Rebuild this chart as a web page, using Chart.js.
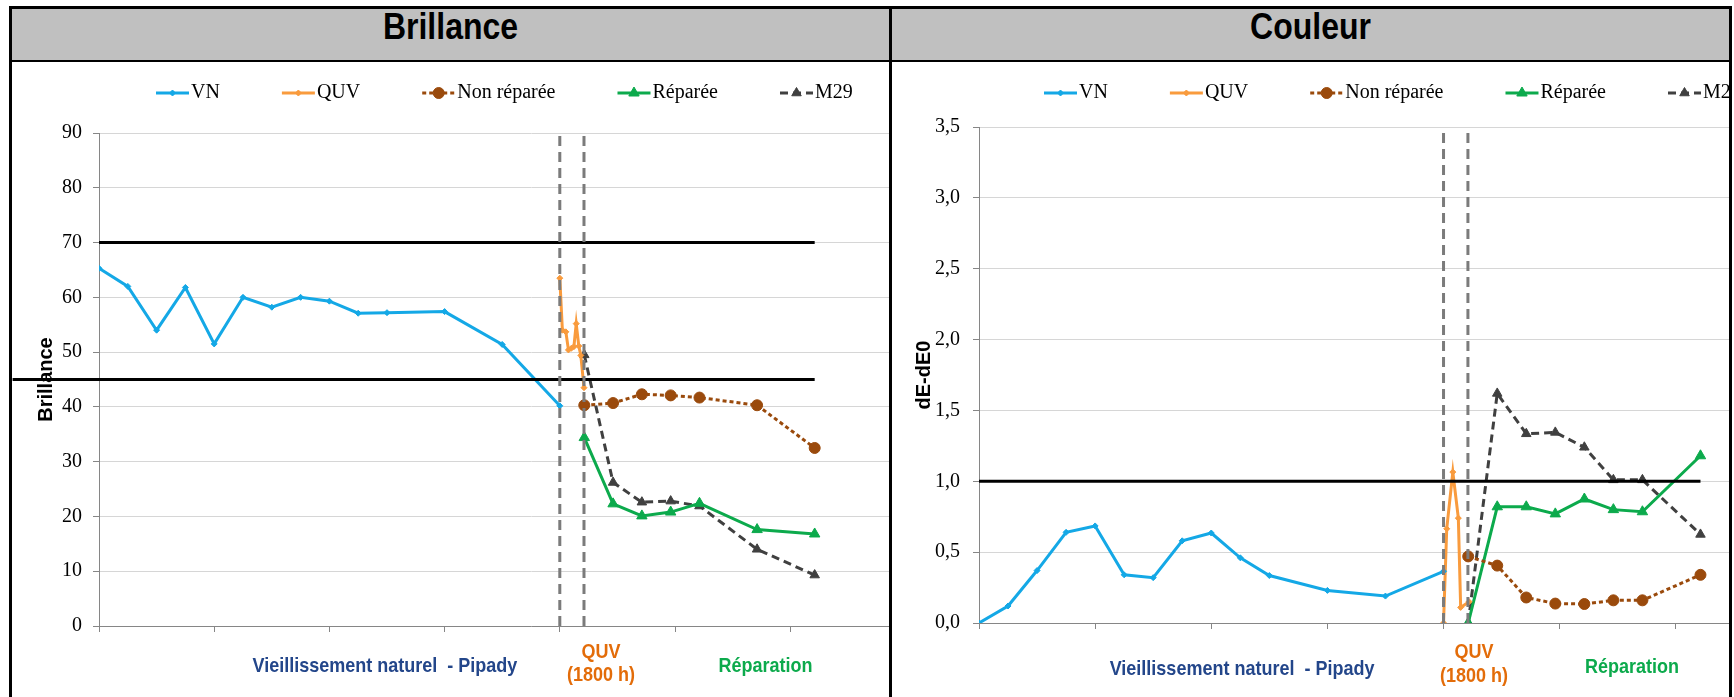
<!DOCTYPE html>
<html lang="fr">
<head>
<meta charset="utf-8">
<title>Brillance / Couleur</title>
<script src="https://cdn.jsdelivr.net/npm/chart.js@4.4.1/dist/chart.umd.min.js"></script>
<style>
  html, body { margin: 0; padding: 0; background: #fff; }
  body { width: 1734px; height: 697px; overflow: hidden; position: relative; }
  .bar { position: absolute; background: #000; }
  .head { position: absolute; top: 9px; height: 51px; background: #c0c0c0; }
  .head span {
    position: absolute; left: 0; right: 0; top: 0; height: 48px; line-height: 48px;
    text-align: center; font: bold 32px "Liberation Sans", Arial, sans-serif;
    transform: scaleY(1.13);
  }
  .panel { position: absolute; top: 62px; height: 635px; overflow: hidden; }
  .panel canvas { position: absolute; left: 0; top: 0; }
</style>
</head>
<body>
<div class="head" style="left:12px;width:877px"><span>Brillance</span></div>
<div class="head" style="left:892px;width:837px"><span>Couleur</span></div>
<div class="bar" style="left:9px;top:6px;width:1723px;height:3px"></div>
<div class="bar" style="left:9px;top:6px;width:3px;height:700px"></div>
<div class="bar" style="left:889px;top:6px;width:3px;height:700px"></div>
<div class="bar" style="left:1729px;top:6px;width:3px;height:700px"></div>
<div class="bar" style="left:12px;top:60px;width:1717px;height:2px"></div>

<div class="panel" style="left:12px;width:877px"><canvas id="brillance" width="958" height="664"></canvas></div>
<div class="panel" style="left:892px;width:837px"><canvas id="couleur" width="965" height="664"></canvas></div>

<script>
// === Abscisses des points de mesure ===
const xVN = [0, 1, 2, 3, 4, 5, 6, 7, 8, 9, 10, 12, 14, 16];
const xQUVBril = [16, 16.09, 16.21, 16.3, 16.4, 16.49, 16.57, 16.66, 16.73, 16.84];
const xRepBril = [16.85, 17.85, 18.85, 19.85, 20.85, 22.85, 24.85];
const xQUVCoul = [16, 16.11, 16.32, 16.51, 16.59, 16.88];
const xRepCoul = [16.85, 17.85, 18.85, 19.85, 20.85, 21.85, 22.85, 24.85];

// === Brillance ===
const brilVN = [65.3, 62, 54, 61.8, 51.5, 60, 58.2, 60, 59.3, 57.1, 57.2, 57.4, 51.4, 40.2];
const brilQUV = [63.5, 54, 53.7, 50.4, 50.7, 51, 55.2, 51.1, 49.4, 43.5];
const brilNonRep = [40.3, 40.7, 42.3, 42.1, 41.7, 40.3, 32.5];
const brilRep = [34.4, 22.3, 20.1, 20.8, 22.4, 17.6, 16.8];
const brilM29 = [49.5, 26.2, 22.6, 22.8, 21.9, 14, 9.3];

// === Couleur (dE-dE0) ===
const coulVN = [0, 0.12, 0.37, 0.64, 0.685, 0.34, 0.32, 0.58, 0.635, 0.46, 0.335, 0.23, 0.19, 0.365];
const coulQUV = [0, 0.665, 1.065, 0.74, 0.11, 0.15];
const coulNonRep = [0.47, 0.405, 0.18, 0.137, 0.134, 0.16, 0.16, 0.34];
const coulRep = [0, 0.82, 0.82, 0.77, 0.875, 0.8, 0.785, 1.18];
const coulM29 = [0, 1.62, 1.335, 1.345, 1.24, 1.01, 1.01, 0.625];

// === Seuils et limites de phases ===
const seuilsBrillance = [70, 45];
const seuilsCouleur = [1.0];
const xSeuils = [[0, 24.85], [-3, 24.85]]; // la ligne à 45 part du bord du cadre
const xPhases = [16, 16.84];               // début / fin du QUV

const nomsSeries = ['VN', 'QUV', 'Non réparée', 'Réparée', 'M29'];
const phaseLabels = ['Vieillissement naturel  - Pipady', 'QUV', '(1800 h)', 'Réparation'];
const phaseColors = ['#23468a', '#e36c09', '#e36c09', '#0caa4c'];

const couleurs = ['#14a8e6', '#f99b3d', '#9a4a0c', '#0caa4c', '#404040'];
const styles = [
  { pointStyle: 'rectRot', pointRadius: 3 },
  { pointStyle: 'rectRot', pointRadius: 3 },
  { pointStyle: 'circle', pointRadius: 5.5, borderDash: [4, 3] },
  { pointStyle: 'triangle', pointRadius: 6 },
  { pointStyle: 'triangle', pointRadius: 5.5, borderDash: [8, 5] }
];

function pts(xs, ys) {
  return xs.map((x, i) => ({ x, y: ys[i] }));
}

function series(xsList, ysList) {
  return nomsSeries.map((label, i) => Object.assign({
    label,
    data: pts(xsList[i], ysList[i]),
    borderColor: couleurs[i],
    backgroundColor: couleurs[i],
    pointBackgroundColor: couleurs[i],
    pointBorderColor: couleurs[i],
    pointBorderWidth: 1,
    borderWidth: 3,
    legend: true
  }, styles[i]));
}

function ligne(xs, ys, color, width, dash) {
  return {
    label: '', data: pts(xs, ys), borderColor: color, borderWidth: width,
    borderDash: dash || [], pointRadius: 0, legend: false, clip: false
  };
}

function repères(seuils, yMax) {
  const out = [];
  xPhases.forEach(x => out.push(ligne([x, x], [0, yMax], '#7b7b7b', 3, [10, 6])));
  seuils.forEach((s, i) => out.push(ligne(xSeuils[i], [s, s], '#000', 3)));
  return out;
}

// légende maison + libellés des phases sous l'axe
const decor = {
  id: 'decor',
  afterDraw(chart, args, opts) {
    const ctx = chart.ctx;
    ctx.save();
    ctx.font = '20px "Liberation Serif"';
    ctx.textBaseline = 'middle';
    let x = opts.legendX;
    const y = opts.legendY;
    chart.data.datasets.filter(d => d.legend).forEach(d => {
      ctx.strokeStyle = d.borderColor;
      ctx.fillStyle = d.borderColor;
      ctx.lineWidth = d.borderWidth;
      ctx.setLineDash(d.borderDash || []);
      ctx.beginPath();
      ctx.moveTo(x, y);
      ctx.lineTo(x + 33, y);
      ctx.stroke();
      ctx.setLineDash([]);
      ctx.lineWidth = 1;
      Chart.helpers.drawPoint(ctx, { pointStyle: d.pointStyle, radius: d.pointRadius, borderWidth: 1, rotation: 0 }, x + 16.5, y);
      ctx.fillStyle = '#000';
      ctx.textAlign = 'left';
      ctx.fillText(d.label, x + 35, y);
      x += 35 + ctx.measureText(d.label).width + 62;
    });

    const xs = chart.scales.x;
    ctx.font = 'bold 18px "Liberation Sans"';
    ctx.textAlign = 'center';
    opts.labels.forEach((l, i) => {
      ctx.fillStyle = phaseColors[i];
      ctx.save();
      ctx.translate(xs.getPixelForValue(l.u), l.y);
      ctx.scale(1, 1.12);
      ctx.fillText(phaseLabels[i], 0, 0);
      ctx.restore();
    });
    ctx.restore();
  }
};

function makeChart(id, cfg) {
  return new Chart(document.getElementById(id), {
    type: 'line',
    data: { datasets: cfg.datasets },
    options: {
      responsive: false,
      animation: false,
      devicePixelRatio: 1,
      layout: { padding: { top: cfg.top, left: 0, right: 0, bottom: 0 } },
      elements: { line: { tension: 0 } },
      scales: {
        x: {
          type: 'linear', min: 0, max: 30,
          ticks: { display: false, stepSize: 4 },
          grid: { drawOnChartArea: false, tickLength: 6, tickColor: '#868686' },
          border: { color: '#868686', width: 1 },
          afterFit: s => { s.height = cfg.xHeight; }
        },
        y: {
          min: 0, max: cfg.yMax,
          ticks: {
            stepSize: cfg.step, padding: cfg.tickPad, color: '#000',
            font: { family: 'Liberation Serif', size: 20 },
            callback: cfg.fmt
          },
          grid: { color: '#d6d6d6', tickLength: 6, tickColor: '#868686' },
          border: { color: '#868686', width: 1 },
          title: {
            display: true, text: cfg.title, color: '#000',
            font: { family: 'Liberation Sans', size: 20, weight: 'bold' },
            padding: { top: cfg.titlePad, bottom: 0 }
          },
          afterFit: s => { s.width = 87; }
        }
      },
      plugins: {
        legend: { display: false },
        tooltip: { enabled: false },
        decor: { legendX: cfg.legendX, legendY: 31, labels: cfg.labels }
      }
    },
    plugins: [decor]
  });
}

makeChart('brillance', {
  datasets: repères(seuilsBrillance, 90).concat(series(
    [xVN, xQUVBril, xRepBril, xRepBril, xRepBril],
    [brilVN, brilQUV, brilNonRep, brilRep, brilM29])),
  top: 71, xHeight: 100, yMax: 90, step: 10, tickPad: 11, titlePad: 22,
  title: 'Brillance', fmt: v => v, legendX: 144,
  labels: [{ u: 9.93, y: 604 }, { u: 17.43, y: 590 }, { u: 17.43, y: 613 }, { u: 23.14, y: 604 }]
});

makeChart('couleur', {
  datasets: repères(seuilsCouleur, 3.5).concat(series(
    [xVN, xQUVCoul, xRepCoul, xRepCoul, xRepCoul],
    [coulVN, coulQUV, coulNonRep, coulRep, coulM29])),
  top: 65, xHeight: 103, yMax: 3.5, step: 0.5, tickPad: 13, titlePad: 20,
  title: 'dE-dE0', fmt: v => v.toFixed(1).replace('.', ','), legendX: 152,
  labels: [{ u: 9.06, y: 607 }, { u: 17.05, y: 590 }, { u: 17.05, y: 614 }, { u: 22.49, y: 605 }]
});
</script>
</body>
</html>
